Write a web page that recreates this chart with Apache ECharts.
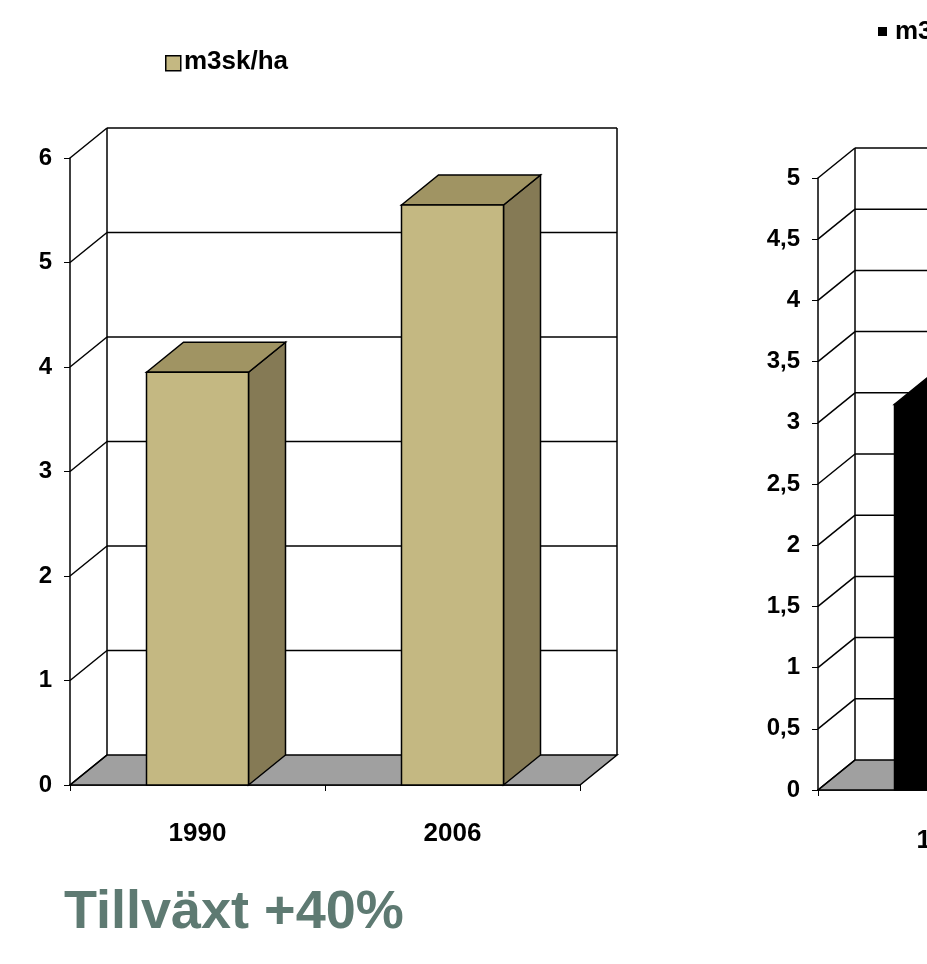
<!DOCTYPE html><html><head><meta charset="utf-8">
<script src="https://cdn.jsdelivr.net/npm/echarts@6/dist/echarts.min.js"></script>
<style>html,body{margin:0;background:#fff}#c{width:927px;height:964px}</style></head><body><div id="c"></div>
<script>
const categoriesL=['1990','2006'];
const valuesL=[3.95,5.55];
const ticksL=[0,1,2,3,4,5,6];
const categoriesR=['1990','2006'];
const valuesR=[3.15,null];
const ticksR=[0,0.5,1,1.5,2,2.5,3,3.5,4,4.5,5];
const fmt=v=>String(v).replace('.',',');
const DX=37,DY=-30;
function bars(color,top,side){return function(p,api){
 const v=api.value(1); const i=api.value(0);
 const a=api.coord([i,v]), b=api.coord([i,0]); const hw=api.size([1,0])[0]*0.2;
 const x0=a[0]-hw,x1=a[0]+hw,yt=a[1],yb=b[1];
 return {type:'group',children:[
  {type:'polygon',shape:{points:[[x1,yt],[x1+DX,yt+DY],[x1+DX,yb+DY],[x1,yb]]},style:{fill:side,stroke:'#000',lineWidth:1.5}},
  {type:'polygon',shape:{points:[[x0,yt],[x0+DX,yt+DY],[x1+DX,yt+DY],[x1,yt]]},style:{fill:top,stroke:'#000',lineWidth:1.5}},
  {type:'rect',shape:{x:x0,y:yt,width:x1-x0,height:yb-yt},style:{fill:color,stroke:'#000',lineWidth:1.5}}]};
};}
function walls(nCat,maxV){return function(p,api){
 const t=api.value(0);
 const a=api.coord([-0.5,t]); const b=api.coord([nCat-0.5,t]);
 const kids=[{type:'line',shape:{x1:a[0],y1:a[1],x2:a[0]+DX,y2:a[1]+DY},style:{stroke:'#000',lineWidth:1.5}}];
 if(t!==0) kids.push({type:'line',shape:{x1:a[0]+DX,y1:a[1]+DY,x2:b[0]+DX,y2:b[1]+DY},style:{stroke:'#000',lineWidth:1.5}});
 if(t===0){const m=api.coord([-0.5,maxV]);
  kids.unshift({type:'polygon',shape:{points:[[a[0],a[1]],[b[0],b[1]],[b[0]+DX,b[1]+DY],[a[0]+DX,a[1]+DY]]},style:{fill:'#A0A0A0',stroke:'#000',lineWidth:1.5}});
  kids.push({type:'line',shape:{x1:a[0]+DX,y1:a[1]+DY,x2:m[0]+DX,y2:m[1]+DY},style:{stroke:'#000',lineWidth:1.5}});
  kids.push({type:'line',shape:{x1:b[0]+DX,y1:b[1]+DY,x2:b[0]+DX,y2:m[1]+DY},style:{stroke:'#000',lineWidth:1.5}});
 }
 return {type:'group',children:kids};
};}
const lab={fontFamily:'Arial',fontWeight:'bold',fontSize:24,color:'#000'};
const ch=echarts.init(document.getElementById('c'));
ch.setOption({animation:false,
 grid:[{left:70,top:158,right:347,bottom:179,outerBoundsMode:'none',containLabel:false},
       {left:818,top:178,right:-401,bottom:174,outerBoundsMode:'none',containLabel:false}],
 xAxis:[0,1].map(g=>({type:'value',gridIndex:g,min:-0.5,max:1.5,interval:1,show:false})).concat([
  {type:'category',gridIndex:0,data:categoriesL,position:'bottom',axisLine:{lineStyle:{color:'#000',width:1.5}},axisTick:{show:true,length:6,lineStyle:{color:'#000'}},axisLabel:{...lab,fontSize:26,margin:36}},
  {type:'category',gridIndex:1,data:categoriesR,position:'bottom',axisLine:{lineStyle:{color:'#000',width:1.5}},axisTick:{show:true,length:6,lineStyle:{color:'#000'}},axisLabel:{...lab,fontSize:26,margin:38}}]),
 yAxis:[
  {type:'value',gridIndex:0,min:0,max:6,interval:1,splitLine:{show:false},axisLine:{show:true,onZero:false,lineStyle:{color:'#000',width:1.5}},axisTick:{show:true,length:6,lineStyle:{color:'#000'}},axisLabel:{...lab,margin:18}},
  {type:'value',gridIndex:1,min:0,max:5,interval:0.5,splitLine:{show:false},axisLine:{show:true,onZero:false,lineStyle:{color:'#000',width:1.5}},axisTick:{show:true,length:6,lineStyle:{color:'#000'}},axisLabel:{...lab,margin:18,formatter:fmt}}],
 series:[
  {type:'custom',xAxisIndex:0,yAxisIndex:0,clip:false,renderItem:walls(2,6),data:ticksL.map(t=>[t])},
  {type:'custom',xAxisIndex:1,yAxisIndex:1,clip:false,renderItem:walls(2,5),data:ticksR.map(t=>[t])},
  {type:'custom',xAxisIndex:0,yAxisIndex:0,clip:false,renderItem:bars('#C4B882','#A09463','#857A55'),data:valuesL.map((v,i)=>[i,v])},
  {type:'custom',xAxisIndex:1,yAxisIndex:1,clip:false,renderItem:bars('#000','#000','#000'),data:valuesR.map((v,i)=>[i,v]).filter(d=>d[1]!=null)}],
 graphic:[
  {type:'rect',left:165,top:55,shape:{width:15,height:15},style:{fill:'#C4B882',stroke:'#000',lineWidth:1.5}},
  {type:'text',left:184,top:49,style:{text:'m3sk/ha',font:'bold 26px Arial',fill:'#000'}},
  {type:'rect',left:878,top:27,shape:{width:9,height:9},style:{fill:'#000'}},
  {type:'text',left:895,top:19,style:{text:'m3sk/ha',font:'bold 26px Arial',fill:'#000'}},
  {type:'text',left:64,top:886,style:{text:'Tillväxt +40%',font:'bold 54px Arial',fill:'#5E7A72'}}]
});
</script></body></html>
